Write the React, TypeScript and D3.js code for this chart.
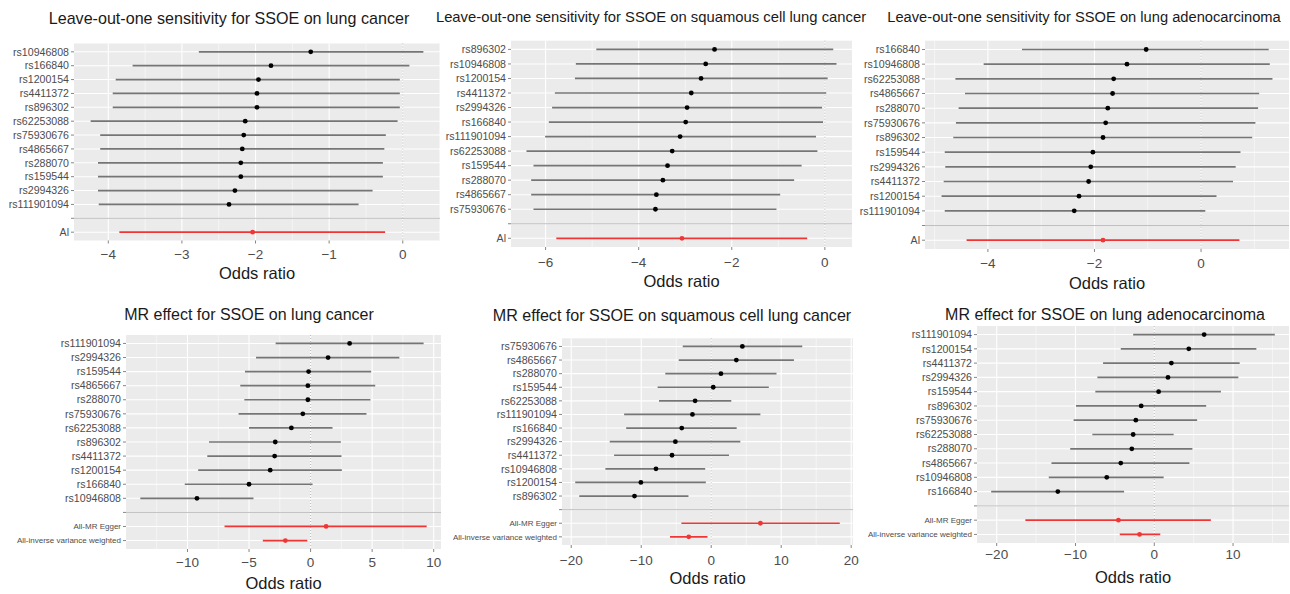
import React from "react";
import * as d3 from "d3";

const FONT = "'Liberation Sans', Arial, Helvetica, sans-serif";

// leave-one-out, lung cancer
const looLungSnps = ["rs10946808", "rs166840", "rs1200154", "rs4411372", "rs896302", "rs62253088", "rs75930676", "rs4865667", "rs288070", "rs159544", "rs2994326", "rs111901094"];
const looLungB = [-1.25, -1.79, -1.96, -1.98, -1.98, -2.14, -2.16, -2.18, -2.2, -2.2, -2.28, -2.36];
const looLungLo = [-2.77, -3.67, -3.9, -3.94, -3.94, -4.24, -4.11, -4.11, -4.14, -4.14, -4.14, -4.13];
const looLungHi = [0.28, 0.09, -0.04, -0.04, -0.04, -0.07, -0.23, -0.25, -0.27, -0.27, -0.41, -0.6];

// leave-one-out, squamous cell lung cancer
const looSqSnps = ["rs896302", "rs10946808", "rs1200154", "rs4411372", "rs2994326", "rs166840", "rs111901094", "rs62253088", "rs159544", "rs288070", "rs4865667", "rs75930676"];
const looSqB = [-2.37, -2.56, -2.66, -2.87, -2.96, -2.99, -3.11, -3.28, -3.38, -3.48, -3.62, -3.64];
const looSqLo = [-4.91, -5.35, -5.37, -5.8, -5.86, -5.93, -6.01, -6.41, -6.26, -6.31, -6.31, -6.26];
const looSqHi = [0.18, 0.25, 0.06, 0.03, -0.06, -0.04, -0.19, -0.16, -0.5, -0.66, -0.96, -1.04];

// leave-one-out, lung adenocarcinoma
const looAdSnps = ["rs166840", "rs10946808", "rs62253088", "rs4865667", "rs288070", "rs75930676", "rs896302", "rs159544", "rs2994326", "rs4411372", "rs1200154", "rs111901094"];
const looAdB = [-1.03, -1.39, -1.64, -1.66, -1.75, -1.79, -1.84, -2.03, -2.07, -2.11, -2.29, -2.38];
const looAdLo = [-3.36, -4.08, -4.61, -4.43, -4.55, -4.6, -4.65, -4.81, -4.8, -4.83, -4.87, -4.81];
const looAdHi = [1.27, 1.29, 1.34, 1.09, 1.07, 1.02, 0.96, 0.74, 0.65, 0.6, 0.29, 0.08];

const looSumLabels = ["Al"];
const looLungSum = { b: [-2.04], lo: [-3.85], hi: [-0.24] };
const looSqSum = { b: [-3.07], lo: [-5.77], hi: [-0.38] };
const looAdSum = { b: [-1.84], lo: [-4.4], hi: [0.72] };

// single SNP MR effect, lung cancer
const mrLungSnps = ["rs111901094", "rs2994326", "rs159544", "rs4865667", "rs288070", "rs75930676", "rs62253088", "rs896302", "rs4411372", "rs1200154", "rs166840", "rs10946808"];
const mrLungB = [3.17, 1.42, -0.16, -0.22, -0.22, -0.63, -1.56, -2.87, -2.92, -3.28, -5.0, -9.23];
const mrLungLo = [-2.84, -4.43, -5.33, -5.71, -5.38, -5.85, -5.0, -8.25, -8.39, -9.13, -10.22, -13.83];
const mrLungHi = [9.18, 7.21, 4.92, 5.25, 4.86, 4.54, 1.78, 2.46, 2.51, 2.54, 0.16, -4.64];

// single SNP MR effect, squamous cell lung cancer
const mrSqSnps = ["rs75930676", "rs4865667", "rs288070", "rs159544", "rs62253088", "rs111901094", "rs166840", "rs2994326", "rs4411372", "rs10946808", "rs1200154", "rs896302"];
const mrSqB = [4.45, 3.59, 1.39, 0.29, -2.3, -2.68, -4.21, -5.12, -5.6, -7.89, -10.05, -10.96];
const mrSqLo = [-4.07, -4.64, -6.56, -7.66, -7.46, -12.44, -12.15, -14.5, -13.88, -15.12, -19.43, -18.85];
const mrSqHi = [13.01, 11.82, 9.33, 8.23, 2.87, 7.03, 3.64, 4.16, 2.54, -0.86, -0.77, -3.25];

// single SNP MR effect, lung adenocarcinoma
const mrAdSnps = ["rs111901094", "rs1200154", "rs4411372", "rs2994326", "rs159544", "rs896302", "rs75930676", "rs62253088", "rs288070", "rs4865667", "rs10946808", "rs166840"];
const mrAdB = [6.33, 4.38, 2.17, 1.74, 0.55, -1.66, -2.34, -2.68, -2.85, -4.25, -6.03, -12.24];
const mrAdLo = [-2.68, -4.25, -6.5, -7.22, -7.48, -9.94, -10.24, -7.86, -10.67, -13.05, -13.39, -20.7];
const mrAdHi = [15.3, 12.96, 10.84, 10.67, 8.46, 6.59, 5.44, 2.46, 4.84, 4.46, 1.19, -3.83];

const mrSumLabels = ["All-MR Egger", "All-inverse variance weighted"];
const mrLungSum = { b: [1.26, -2.05], lo: [-6.99, -3.88], hi: [9.43, -0.27] };
const mrSqSum = { b: [7.03, -3.21], lo: [-4.26, -5.89], hi: [18.37, -0.53] };
const mrAdSum = { b: [-4.55, -1.87], lo: [-16.36, -4.38], hi: [7.18, 0.76] };

const ticksLooLung = [-4, -3, -2, -1, 0];
const ticksLooSq = [-6, -4, -2, 0];
const ticksLooAd = [-4, -2, 0];
const ticksMrLung = [-10, -5, 0, 5, 10];
const ticksMrSq = [-20, -10, 0, 10, 20];
const ticksMrAd = [-20, -10, 0, 10];

const panels = [
  {
    title: "Leave-out-one sensitivity for SSOE on lung cancer",
    snps: looLungSnps, b: looLungB, lo: looLungLo, hi: looLungHi,
    sumLabels: looSumLabels, sum: looLungSum, ticks: ticksLooLung, smallSum: false,
    left: 74, right: 440, top: 43.5, bottom: 240.5, titleX: 229, titleY: 19, titleSize: 16.1, tickY: 254, xlabY: 273,
  },
  {
    title: "Leave-out-one sensitivity for SSOE on squamous cell lung cancer",
    snps: looSqSnps, b: looSqB, lo: looSqLo, hi: looSqHi,
    sumLabels: looSumLabels, sum: looSqSum, ticks: ticksLooSq, smallSum: false,
    left: 511, right: 852, top: 40.7, bottom: 247, titleX: 651, titleY: 17, titleSize: 14.8, tickY: 262, xlabY: 281,
  },
  {
    title: "Leave-out-one sensitivity for SSOE on lung adenocarcinoma",
    snps: looAdSnps, b: looAdB, lo: looAdLo, hi: looAdHi,
    sumLabels: looSumLabels, sum: looAdSum, ticks: ticksLooAd, smallSum: false,
    left: 925, right: 1289, top: 40.7, bottom: 249, titleX: 1084, titleY: 17, titleSize: 14.7, tickY: 263, xlabY: 283,
  },
  {
    title: "MR effect for SSOE on lung cancer",
    snps: mrLungSnps, b: mrLungB, lo: mrLungLo, hi: mrLungHi,
    sumLabels: mrSumLabels, sum: mrLungSum, ticks: ticksMrLung, smallSum: true,
    left: 126, right: 441, top: 335, bottom: 549, titleX: 249, titleY: 315, titleSize: 16, tickY: 562, xlabY: 583,
  },
  {
    title: "MR effect for SSOE on squamous cell lung cancer",
    snps: mrSqSnps, b: mrSqB, lo: mrSqLo, hi: mrSqHi,
    sumLabels: mrSumLabels, sum: mrSqSum, ticks: ticksMrSq, smallSum: true,
    left: 562, right: 853, top: 338.3, bottom: 545, titleX: 672, titleY: 316, titleSize: 16.1, tickY: 560, xlabY: 578,
  },
  {
    title: "MR effect for SSOE on lung adenocarcinoma",
    snps: mrAdSnps, b: mrAdB, lo: mrAdLo, hi: mrAdHi,
    sumLabels: mrSumLabels, sum: mrAdSum, ticks: ticksMrAd, smallSum: true,
    left: 977, right: 1289, top: 326, bottom: 543, titleX: 1105, titleY: 315, titleSize: 16, tickY: 554, xlabY: 577,
  },
];

const ForestPanel = ({ p }: { p: any }) => {
  const levels = [...p.snps, "", ...p.sumLabels];
  const y = d3.scalePoint<string>().domain(levels).range([p.top, p.bottom]).padding(0.6);

  // ggplot style: data range expanded by 5% each side
  const ext = d3.extent([...p.lo, ...p.hi, ...p.sum.lo, ...p.sum.hi]) as [number, number];
  const pad = (ext[1] - ext[0]) * 0.05;
  const x = d3.scaleLinear().domain([ext[0] - pad, ext[1] + pad]).range([p.left, p.right]);
  const [d0, d1] = x.domain();
  const step = p.ticks[1] - p.ticks[0];
  const minor = d3
    .range(p.ticks[0] - step / 2, p.ticks[p.ticks.length - 1] + step, step)
    .filter((v) => v >= d0 && v <= d1);

  const rows = p.snps.map((s: string, i: number) => ({ s, b: p.b[i], lo: p.lo[i], hi: p.hi[i], sum: false }));
  const sums = p.sumLabels.map((s: string, i: number) => ({ s, b: p.sum.b[i], lo: p.sum.lo[i], hi: p.sum.hi[i], sum: true }));
  const all = [...rows, ...sums];

  return (
    <g fontFamily={FONT}>
      <text x={p.titleX} y={p.titleY + p.titleSize * 0.34} textAnchor="middle" fontSize={p.titleSize} fill="#1a1a1a">
        {p.title}
      </text>
      <rect x={p.left} y={p.top} width={p.right - p.left} height={p.bottom - p.top} fill="#EBEBEB" />
      {minor.map((v) => (
        <line key={"mn" + v} x1={x(v)} x2={x(v)} y1={p.top} y2={p.bottom} stroke="#fff" strokeWidth={0.5} />
      ))}
      {p.ticks.map((v: number) => (
        <line key={"mj" + v} x1={x(v)} x2={x(v)} y1={p.top} y2={p.bottom} stroke="#fff" strokeWidth={1.1} />
      ))}
      {levels.map((l) => (
        <line key={"hy" + l} x1={p.left} x2={p.right} y1={y(l)} y2={y(l)} stroke="#fff" strokeWidth={1.1} />
      ))}
      <line x1={p.left} x2={p.right} y1={y("")} y2={y("")} stroke="#bebebe" strokeWidth={1} />
      <line x1={x(0)} x2={x(0)} y1={p.top} y2={p.bottom} stroke="#999" strokeWidth={0.7} strokeDasharray="1,2" />
      {all.map((r) => (
        <g key={"r" + r.s}>
          <line
            x1={x(r.lo)} x2={x(r.hi)} y1={y(r.s)} y2={y(r.s)}
            stroke={r.sum ? "#f03535" : "#757575"} strokeWidth={1.7}
          />
          <circle cx={x(r.b)} cy={y(r.s)} r={2.4} fill={r.sum ? "#f03535" : "#000"} />
        </g>
      ))}
      {levels.map((l) => (
        <g key={"yt" + l}>
          <line x1={p.left - 3} x2={p.left} y1={y(l)} y2={y(l)} stroke="#333" strokeWidth={0.6} />
          <text
            x={p.left - 5} y={y(l)} dy="0.35em" textAnchor="end"
            fontSize={p.smallSum && p.sumLabels.includes(l) ? 8 : 10.6} fill="#4d4d4d"
          >
            {l}
          </text>
        </g>
      ))}
      {p.ticks.map((v: number) => (
        <g key={"xt" + v}>
          <line x1={x(v)} x2={x(v)} y1={p.bottom} y2={p.bottom + 3} stroke="#333" strokeWidth={0.6} />
          <text x={x(v)} y={p.tickY} dy="0.35em" textAnchor="middle" fontSize={13.5} fill="#4d4d4d">
            {d3.format("")(v).replace("-", "\u2212")}
          </text>
        </g>
      ))}
      <text x={(p.left + p.right) / 2} y={p.xlabY} dy="0.35em" textAnchor="middle" fontSize={16.5} fill="#1a1a1a">
        Odds ratio
      </text>
    </g>
  );
};

export default function App() {
  return (
    <svg
      width={1290}
      height={594}
      style={{ position: "absolute", left: 0, top: 0, background: "#fff" }}
    >
      {panels.map((p) => (
        <ForestPanel key={p.title} p={p} />
      ))}
    </svg>
  );
}
